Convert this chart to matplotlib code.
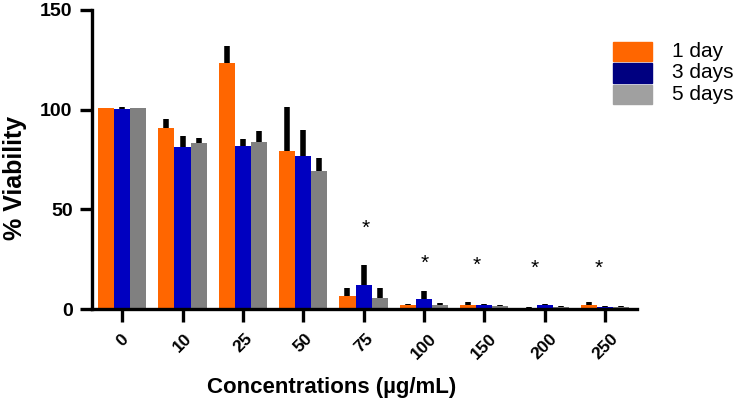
import matplotlib
matplotlib.use('Agg')
import matplotlib.pyplot as plt
from matplotlib.patches import Rectangle
import numpy as np

plt.rcParams['font.family'] = ['Liberation Sans', 'DejaVu Sans']

# ── data ──────────────────────────────────────────────────────────────────
concs = ['0', '10', '25', '50', '75', '100', '150', '200', '250']
day1 = [100.9, 90.6, 123.3, 79.4, 6.4, 1.8, 2.2, 0.5, 2.2]
day1_err = [0.0, 4.7, 8.4, 21.8, 4.0, 0.7, 1.5, 0.7, 1.3]
day3 = [100.3, 81.1, 82.0, 76.9, 11.9, 5.2, 1.8, 2.0, 1.0]
day3_err = [1.0, 5.8, 3.3, 12.7, 10.2, 4.0, 0.5, 0.3, 0.7]
day5 = [100.8, 83.1, 83.8, 69.4, 5.5, 2.2, 1.3, 0.8, 1.0]
day5_err = [0.0, 2.5, 5.7, 6.2, 4.9, 1.0, 0.7, 0.7, 0.7]
labels = ['1 day', '3 days', '5 days']
star_groups = [4, 5, 6, 7, 8]
star_y = [40.5, 23.0, 22.0, 20.5, 20.5]

ORANGE = '#ff6600'
BLUE = '#0000c0'
GREY = '#808080'
LEG_COLS = ['#ff6600', '#000080', '#a0a0a0']   # legend swatches differ a bit

W, H = 738, 405
fig = plt.figure(figsize=(W / 100, H / 100), dpi=100)
ax = fig.add_axes([92 / W, 1 - 309 / H, (637 - 92) / W, (309 - 10) / H])

x = np.arange(len(concs))
w = 0.267
series = [(day1, day1_err, ORANGE), (day3, day3_err, BLUE), (day5, day5_err, GREY)]
for i, (vals, errs, col) in enumerate(series):
    pos = x + (i - 1) * w
    ax.bar(pos, vals, width=w, color=col, edgecolor='none', zorder=2)
    # upward-only thick error bars
    ax.vlines(pos, vals, np.array(vals) + np.array(errs), color='black', lw=4, zorder=3)

star_dx = [0.03, 0.02, -0.13, -0.17, -0.1]
for g, yv, dx in zip(star_groups, star_y, star_dx):
    ax.text(g + dx, yv, '*', ha='center', va='center', fontsize=15, color='black')

ax.set_xlim(-0.5, 8.53)
ax.set_ylim(0, 150)
ax.set_yticks([0, 50, 100, 150])
ax.set_xticks(x)
ax.set_xticklabels(concs, rotation=45, ha='center', fontsize=12.5, fontweight='bold')
ax.tick_params(axis='x', pad=7)
ax.tick_params(axis='y', labelsize=14, pad=5)
for lab in ax.get_yticklabels():
    lab.set_fontweight('bold')
ax.tick_params(width=2.4, length=9)

for s in ['top', 'right']:
    ax.spines[s].set_visible(False)
for s in ['left', 'bottom']:
    ax.spines[s].set_linewidth(2.4)

fig.text(15 / W, 1 - 178 / H, '% Viability', rotation=90, ha='center', va='center',
         fontsize=18, fontweight='bold')
fig.text(332 / W, 1 - 388 / H, 'Concentrations (µg/mL)', ha='center', va='center',
         fontsize=16, fontweight='bold')

# legend drawn by hand in pixel positions
for k, (lab, col) in enumerate(zip(labels, LEG_COLS)):
    top = 42 + k * 21.5
    fig.add_artist(Rectangle((613 / W, 1 - (top + 19) / H), 39 / W, 19 / H,
                             transform=fig.transFigure, color=col))
    fig.text(672 / W, 1 - (top + 9.5) / H, lab, ha='left', va='center', fontsize=15)

plt.savefig('out.png', dpi=100, facecolor='white')
